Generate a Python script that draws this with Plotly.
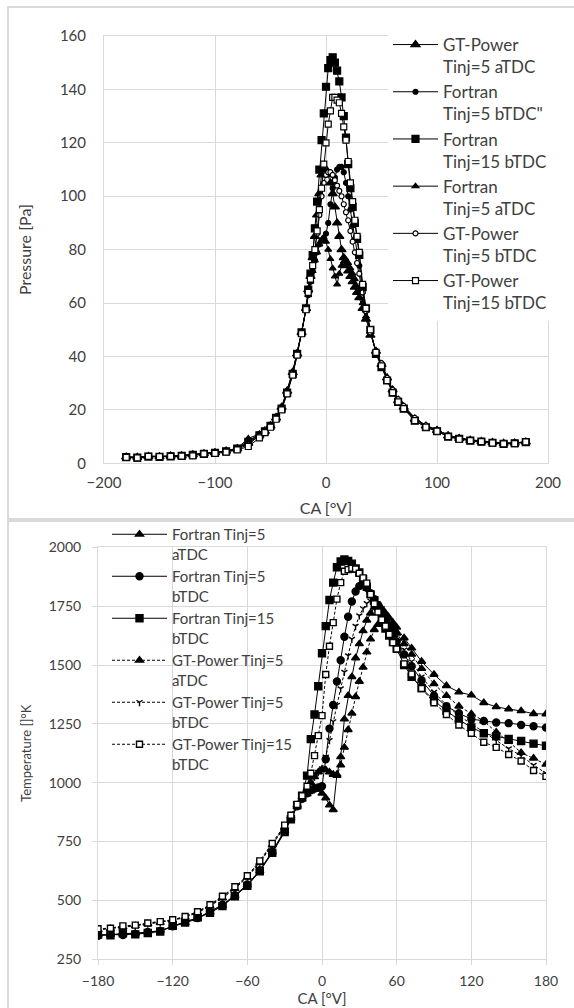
import plotly.graph_objects as go

# ---------------- Pressure panel data ----------------
ca_p = [-180, -170, -160, -150, -140, -130, -120, -110, -100, -90, -80, -70, -60,
        -55, -50, -45, -40, -35, -30, -26, -22, -18,
        -16, -14, -12, -10, -8, -6, -4, -2, 0, 2, 4, 6, 8, 10, 12, 14, 16, 18, 20,
        22, 24, 26, 28, 30, 33, 36, 40, 45, 50, 55, 60, 65, 70,
        80, 90, 100, 110, 120, 130, 140, 150, 160, 170, 180]

p_gt_5a = [2.4, 2.3, 2.6, 2.5, 2.7, 2.8, 3.2, 3.6, 4.0, 4.6, 5.5, 7.5, 10.5,
           12.0, 14.0, 17.0, 21.0, 27.0, 34.0, 41.0, 49.0, 58.0,
           65.0, 70.0, 77.0, 85.0, 93.0, 101.0, 108.0, 111.0, 110.0, 108.0, 105.0, 101.0, 96.0, 90.0, 85.0, 80.0, 77.0, 74.0, 72.0,
           70.0, 68.0, 66.0, 64.0, 62.0, 58.0, 54.0, 48.0, 42.0, 37.0, 32.0, 27.5, 23.5, 21.0,
           16.5, 14.0, 12.3, 10.3, 9.3, 8.6, 8.2, 7.8, 7.5, 7.6, 8.0]
p_ft_5b = [2.2, 2.2, 2.5, 2.5, 2.6, 2.8, 3.3, 3.5, 4.0, 4.5, 5.6, 8.5, 10.8,
           12.3, 14.2, 17.2, 21.0, 27.0, 34.0, 41.0, 49.0, 58.0,
           63.0, 68.0, 72.0, 76.0, 79.0, 82.0, 83.5, 84.5, 86.0, 90.0, 97.0, 103.0, 107.0, 110.0, 111.0, 111.0, 109.0, 105.0, 100.0,
           95.0, 89.0, 84.0, 79.0, 74.0, 64.0, 57.0, 49.0, 42.0, 37.0, 31.5, 27.0, 23.5, 21.0,
           16.5, 14.0, 12.5, 10.3, 9.4, 8.6, 8.3, 7.9, 7.4, 7.6, 8.0]
p_ft_15b = [2.3, 2.1, 2.5, 2.4, 2.6, 2.8, 3.2, 3.5, 3.9, 4.5, 5.5, 8.0, 10.5,
            12.0, 14.0, 17.0, 20.5, 26.5, 33.5, 41.0, 49.0, 58.0,
            65.0, 71.0, 78.0, 88.0, 98.0, 110.0, 121.0, 131.0, 141.0, 148.0, 151.0, 152.0, 150.0, 147.0, 143.0, 137.0, 130.0, 122.0, 112.0,
            103.0, 96.0, 90.0, 84.0, 78.0, 66.0, 58.0, 50.0, 41.0, 36.0, 31.0, 26.5, 23.0, 20.5,
            16.0, 13.5, 12.0, 10.0, 9.2, 8.5, 8.1, 7.7, 7.3, 7.5, 7.9]
p_ft_5a = [2.3, 2.2, 2.6, 2.5, 2.6, 2.9, 3.3, 3.6, 4.1, 4.6, 5.7, 9.3, 11.0,
           12.5, 14.4, 17.5, 21.0, 27.5, 34.5, 41.5, 49.0, 58.0,
           63.0, 68.0, 72.0, 76.0, 79.0, 82.0, 83.5, 84.5, 83.0, 80.0, 76.5, 73.0, 70.0, 67.0, 71.0, 74.0, 75.5, 76.0, 75.0,
           73.0, 71.0, 69.0, 66.0, 64.0, 60.0, 55.0, 49.0, 42.0, 37.0, 32.0, 27.5, 24.0, 21.5,
           17.0, 14.0, 12.5, 10.5, 9.5, 8.8, 8.4, 8.0, 7.6, 7.6, 8.1]
p_gt_5b = [2.4, 2.3, 2.6, 2.6, 2.7, 2.9, 3.2, 3.6, 4.0, 4.5, 5.3, 7.0, 10.3,
           11.8, 13.8, 16.8, 20.5, 26.5, 33.5, 40.5, 48.5, 57.5,
           64.0, 69.0, 74.0, 80.0, 86.0, 93.0, 100.0, 105.0, 108.0, 109.0, 109.0, 108.0, 106.0, 104.0, 102.0, 100.0, 97.0, 94.0, 91.0,
           87.0, 83.0, 79.0, 75.0, 71.0, 64.0, 57.0, 49.0, 42.0, 37.5, 32.0, 27.5, 24.0, 21.5,
           17.0, 14.2, 12.5, 10.5, 9.5, 8.7, 8.3, 7.9, 7.5, 7.6, 8.0]
p_gt_15b = [2.2, 2.0, 2.6, 2.5, 2.6, 2.7, 2.8, 3.5, 3.7, 4.2, 5.0, 6.3, 9.5,
            11.5, 13.5, 16.5, 20.0, 26.0, 33.0, 40.5, 48.5, 57.5,
            64.0, 69.0, 74.0, 80.0, 87.0, 95.0, 103.0, 112.0, 120.0, 127.0, 132.0, 137.0, 137.0, 136.0, 135.0, 131.0, 126.0, 121.0, 113.0,
            105.0, 98.0, 91.0, 85.0, 79.0, 67.0, 58.0, 50.0, 41.5, 36.5, 31.0, 26.5, 23.0, 20.5,
            16.0, 13.5, 12.0, 10.0, 9.0, 8.5, 8.1, 7.6, 7.3, 7.4, 8.0]

# ---------------- Temperature panel data ----------------
ca_t = [-180, -170, -160, -150, -140, -130, -120, -110, -100, -90, -80,
        -70, -60, -50, -40, -30, -25, -20, -16, -12, -9, -6, -3,
        0, 3, 6, 9, 12, 15, 18, 21, 24, 27, 30, 33, 36, 39, 42, 45, 48, 51, 54, 57, 60,
        66, 72, 80, 90, 100, 110, 120, 130, 140, 150, 160, 170, 180]

t_ft_5a = [352, 355, 356, 360, 365, 372, 388, 405, 422, 450, 478,
           520, 565, 625, 705, 795, 848, 898, 930, 952, 965, 975, 972,
           955, 935, 905, 885, 1035, 1110, 1270, 1370, 1450, 1530, 1590, 1645, 1690, 1720, 1745, 1750, 1740, 1720, 1700, 1680, 1660,
           1615, 1572, 1515, 1460, 1412, 1385, 1372, 1340, 1322, 1313, 1305, 1293, 1292]
t_ft_5b = [350, 356, 353, 358, 366, 370, 390, 410, 425, 452, 482,
           522, 568, 628, 708, 798, 850, 900, 932, 955, 968, 975, 980,
           985, 1100, 1230, 1330, 1430, 1520, 1620, 1705, 1770, 1812, 1835, 1840, 1828, 1805, 1780, 1755, 1730, 1700, 1665, 1630, 1600,
           1545, 1495, 1435, 1370, 1325, 1295, 1270, 1262, 1256, 1253, 1245, 1240, 1234]
t_ft_15b = [355, 352, 360, 356, 362, 368, 392, 406, 428, 448, 476,
            518, 562, 624, 702, 790, 845, 905, 945, 1030, 1185, 1290, 1410,
            1550, 1665, 1776, 1850, 1915, 1940, 1948, 1942, 1930, 1910, 1893, 1865, 1832, 1800, 1775, 1745, 1695, 1655, 1625, 1598, 1570,
            1500, 1450, 1402, 1350, 1305, 1268, 1235, 1210, 1197, 1186, 1177, 1166, 1157]
t_gt_5a = [375, 380, 386, 392, 400, 406, 415, 428, 448, 476, 510,
           550, 598, 660, 735, 812, 858, 905, 940, 975, 1000, 1025, 1045,
           1058, 1055, 1045, 1035, 1030, 1075, 1150, 1225, 1295, 1365, 1430, 1490, 1555, 1610, 1650, 1672, 1680, 1678, 1670, 1655, 1635,
           1590, 1545, 1485, 1420, 1370, 1325, 1292, 1262, 1215, 1175, 1128, 1104, 1078]
t_gt_5b = [378, 382, 390, 394, 402, 408, 416, 432, 452, 480, 514,
           555, 602, 664, 738, 815, 860, 906, 940, 975, 1000, 1025, 1045,
           1060, 1110, 1180, 1260, 1330, 1400, 1470, 1540, 1610, 1665, 1710, 1740, 1762, 1772, 1770, 1760, 1740, 1715, 1690, 1660, 1630,
           1565, 1515, 1450, 1385, 1330, 1285, 1250, 1215, 1180, 1145, 1115, 1075, 1040]
t_gt_15b = [380, 382, 392, 395, 404, 410, 418, 432, 452, 482, 518,
            558, 605, 668, 742, 820, 862, 908, 945, 985, 1040, 1115, 1200,
            1285, 1460, 1580, 1680, 1780, 1850, 1898, 1905, 1911, 1908, 1890, 1870, 1848, 1800, 1760, 1725, 1692, 1665, 1630, 1595, 1568,
            1505, 1462, 1400, 1340, 1290, 1245, 1210, 1172, 1150, 1120, 1092, 1052, 1027]

# ---------------- Styling ----------------
W, H = 574, 1008
FONT = "Lato"
TXT = "#404040"
GRID = "#d9d9d9"
INK = "#000000"


def fx(px):
    return px / W


def fy(py):
    return 1 - py / H


fig = go.Figure()

pressure_series = [
    ("GT-Power<br>Tinj=5 aTDC", p_gt_5a, "triangle-up", 8, INK),
    ("Fortran<br>Tinj=5 bTDC\"", p_ft_5b, "circle", 5, INK),
    ("Fortran<br>Tinj=15 bTDC", p_ft_15b, "square", 7, INK),
    ("Fortran<br>Tinj=5 aTDC", p_ft_5a, "triangle-up", 6, INK),
    ("GT-Power<br>Tinj=5 bTDC", p_gt_5b, "circle", 5, "white"),
    ("GT-Power<br>Tinj=15 bTDC", p_gt_15b, "square", 6, "white"),
]
for name, vals, sym, size, fill in pressure_series:
    fig.add_trace(go.Scatter(
        x=ca_p, y=vals, name=name, mode="lines+markers",
        xaxis="x", yaxis="y", legend="legend",
        line=dict(color=INK, width=1),
        marker=dict(symbol=sym, size=size, color=fill,
                    line=dict(color=INK, width=1.2)),
    ))

temp_series = [
    ("Fortran Tinj=5<br>aTDC", t_ft_5a, "triangle-up", 7, INK, "solid"),
    ("Fortran Tinj=5<br>bTDC", t_ft_5b, "circle", 7, INK, "solid"),
    ("Fortran Tinj=15<br>bTDC", t_ft_15b, "square", 7, INK, "solid"),
    ("GT-Power Tinj=5<br>aTDC", t_gt_5a, "triangle-up", 7, INK, "3px,2px"),
    ("GT-Power Tinj=5<br>bTDC", t_gt_5b, "y-down-open", 5, INK, "3px,2px"),
    ("GT-Power Tinj=15<br>bTDC", t_gt_15b, "square", 6, "white", "3px,2px"),
]
for name, vals, sym, size, fill, dash in temp_series:
    fig.add_trace(go.Scatter(
        x=ca_t, y=vals, name=name, mode="lines+markers",
        xaxis="x2", yaxis="y2", legend="legend2",
        line=dict(color=INK, width=1, dash=dash),
        marker=dict(symbol=sym, size=size, color=fill,
                    line=dict(color=INK, width=1.4)),
    ))

axis_common = dict(
    showgrid=True, gridcolor=GRID, gridwidth=1, zeroline=False,
    showline=True, linecolor=GRID, linewidth=1, mirror=True, automargin=False,
)
tick15 = dict(family=FONT, size=15, color=TXT)
tick14 = dict(family=FONT, size=14, color=TXT)

fig.update_layout(
    width=W, height=H,
    margin=dict(l=0, r=0, t=0, b=0, autoexpand=False),
    paper_bgcolor="white", plot_bgcolor="white",
    font=dict(family=FONT, color=TXT),
    xaxis=dict(domain=[fx(104), fx(548)], anchor="y", range=[-200, 200], dtick=100,
               ticks="", ticklabelstandoff=6, tickfont=tick15,
               title=dict(text="CA [°V]", font=dict(family=FONT, size=16, color=TXT), standoff=12),
               **axis_common),
    yaxis=dict(domain=[fy(463.3), fy(36)], anchor="x", range=[0, 160], dtick=20,
               ticks="", ticklabelstandoff=14, tickfont=tick15,
               title=dict(text="Pressure [Pa]", font=dict(family=FONT, size=16, color=TXT), standoff=24),
               **axis_common),
    xaxis2=dict(domain=[fx(98), fx(546)], anchor="y2", range=[-180, 180], dtick=60,
                ticks="outside", ticklen=5, tickcolor=GRID, ticklabelstandoff=4, tickfont=tick14,
                title=dict(text="CA [°V]", font=dict(family=FONT, size=15, color=TXT), standoff=5),
                **axis_common),
    yaxis2=dict(domain=[fy(959.3), fy(547.3)], anchor="x2", range=[250, 2000], dtick=250,
                ticks="outside", ticklen=5, tickcolor=GRID, ticklabelstandoff=8, tickfont=tick14,
                title=dict(text="Temperature []°K", font=dict(family=FONT, size=13, color=TXT), standoff=14),
                **axis_common),
    legend=dict(x=fx(388), y=fy(27), xanchor="left", yanchor="top",
                bgcolor="white", borderwidth=0, valign="top", itemwidth=45,
                font=dict(family=FONT, size=17, color=TXT), tracegroupgap=0),
    legend2=dict(x=fx(107), y=fy(518), xanchor="left", yanchor="top",
                 bgcolor="rgba(0,0,0,0)", borderwidth=0, valign="top", itemwidth=55,
                 font=dict(family=FONT, size=15, color=TXT), tracegroupgap=0),
    shapes=[
        # outer frames of the two chart boxes
        dict(type="rect", xref="paper", yref="paper",
             x0=fx(8), x1=fx(590), y0=fy(519), y1=fy(7),
             line=dict(color=GRID, width=2), fillcolor="rgba(0,0,0,0)", layer="below"),
        dict(type="rect", xref="paper", yref="paper",
             x0=fx(8), x1=fx(590), y0=fy(1020), y1=fy(521),
             line=dict(color=GRID, width=2), fillcolor="rgba(0,0,0,0)", layer="below"),
        # white backing of the temperature legend box (hides the grid behind it)
        dict(type="rect", xref="paper", yref="paper",
             x0=fx(101), x1=fx(297), y0=fy(781), y1=fy(548),
             line=dict(width=0), fillcolor="white", layer="between"),
    ],
)

fig.write_html("out.html")
